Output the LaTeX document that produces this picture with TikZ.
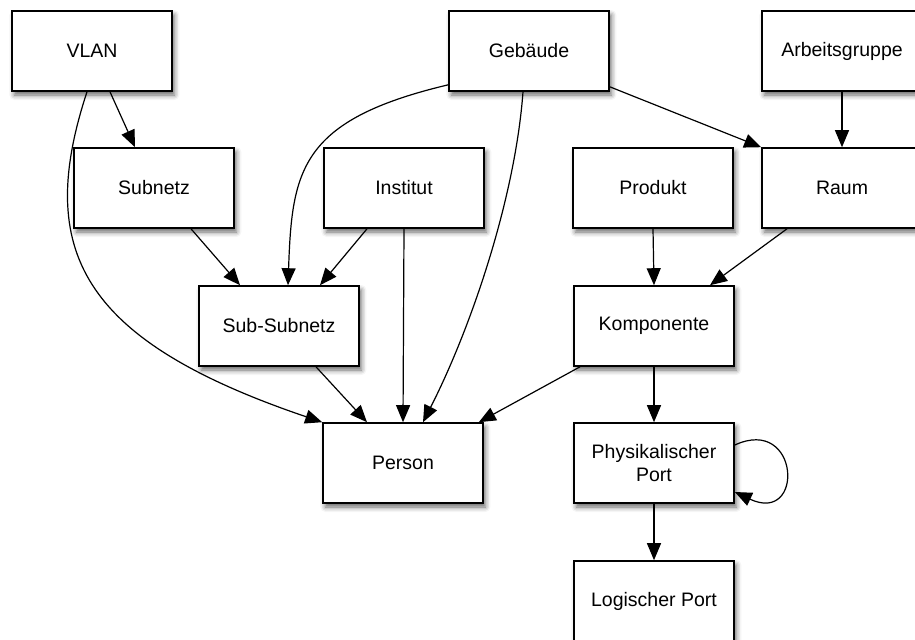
\documentclass[tikz,border=0pt]{standalone}
\usepackage{fontspec}
\setmainfont{Liberation Sans}
\usetikzlibrary{arrows.meta,shadows.blur}

\begin{document}
\begin{tikzpicture}[x=0.5pt, y=-0.5pt,
    entity/.style={draw, fill=white, line width=0.8pt, minimum width=80pt, minimum height=40pt,
      inner sep=0pt, align=center, font=\fontsize{9.75}{11.5}\selectfont,
      blur shadow={shadow xshift=1.2pt, shadow yshift=-2pt, shadow blur radius=2.5pt, shadow opacity=60}},
    rel/.style={-{Triangle[length=8.5pt, width=7pt]}, line width=0.6pt}]
            \useasboundingbox (0,0) rectangle (915,639);
            % entities
            \node[entity] (vlan) at (92,51) {VLAN};
            \node[entity] (gebaeude) at (529,51) {Gebäude};
            \node[entity] (arbeit) at (842,51) {Arbeitsgruppe};
            \node[entity] (subnetz) at (154,188) {Subnetz};
            \node[entity] (institut) at (404,188) {Institut};
            \node[entity] (produkt) at (653,188) {Produkt};
            \node[entity] (raum) at (842,188) {Raum};
            \node[entity] (subsub) at (279,326) {Sub-Subnetz};
            \node[entity] (komp) at (654,326) {Komponente};
            \node[entity] (person) at (403,463) {Person};
            \node[entity] (phys) at (654,463) {Physikalischer\\Port};
            \node[entity] (logport) at (654,601) {Logischer Port};
            % relations
            \draw[rel] ([xshift=9pt]vlan.south) -- ([xshift=-9.5pt]subnetz.north);
            \draw[rel] ([xshift=-2.5pt]vlan.south) .. controls (35,250) and (80,340) .. (person.north west);
            \draw[rel] ([yshift=3.5pt]gebaeude.south west) .. controls (300,120) and (292,170) .. ([xshift=4.5pt]subsub.north);
            \draw[rel] ([xshift=-3pt]gebaeude.south) .. controls (515,200) and (470,330) .. ([xshift=10pt]person.north);
            \draw[rel] ([yshift=2.5pt]gebaeude.south east) -- (raum.north west);
            \draw[rel] (arbeit.south) -- (raum.north);
            \draw[rel] ([xshift=18.5pt]subnetz.south) -- ([xshift=-19.5pt]subsub.north);
            \draw[rel] ([xshift=-18.5pt]institut.south) -- ([xshift=20.5pt]subsub.north);
            \draw[rel] (institut.south) -- (person.north);
            \draw[rel] ([xshift=18.5pt]subsub.south) -- ([xshift=-18pt]person.north);
            \draw[rel] (produkt.south) -- (komp.north);
            \draw[rel] ([xshift=-27.5pt]raum.south) -- ([xshift=28pt]komp.north);
            \draw[rel] ([xshift=-37pt]komp.south) -- ([xshift=-2.5pt]person.north east);
            \draw[rel] (komp.south) -- (phys.north);
            \draw[rel] ([yshift=9pt]phys.east) .. controls (800,415) and (805,525) .. ([yshift=-14.5pt]phys.east);
            \draw[rel] (phys.south) -- (logport.north);
\end{tikzpicture}
\end{document}
